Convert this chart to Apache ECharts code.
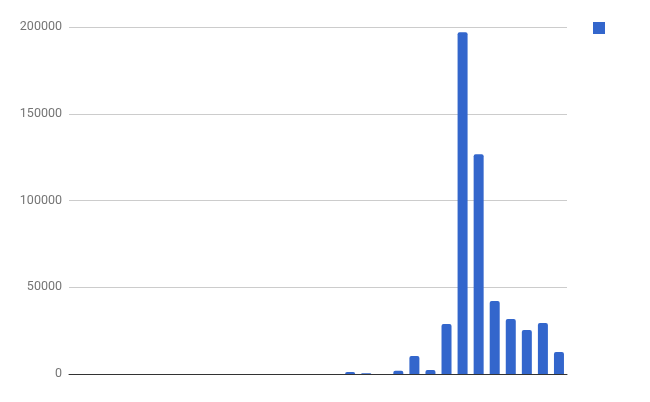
<!DOCTYPE html>
<html>
<head>
<meta charset="utf-8">
<script src="https://cdn.jsdelivr.net/npm/echarts@6/dist/echarts.min.js"></script>
<style>
  html, body { margin: 0; padding: 0; background: #fff; }
  #chart { width: 650px; height: 402px; }
</style>
</head>
<body>
<div id="chart"></div>
<script>
// 31 categories, unlabeled in the reference
var categories = [];
for (var i = 1; i <= 31; i++) { categories.push(String(i)); }

var values = [
    0, 0, 0, 0, 0, 0, 0, 0, 0, 0,
    0, 0, 0, 0, 0, 0, 0, 1100, 500, 0,
    1900, 10400, 2300, 28800, 197000, 126600, 42100, 31700, 25400, 29400,
    12700
];

var yTicks = [0, 50000, 100000, 150000, 200000];

var myChart = echarts.init(document.getElementById('chart'));

var option = {
    animation: false,
    grid: { left: 69, right: 83, top: 27, bottom: 28 },
    legend: {
        left: 593,
        top: 22,
        padding: 0,
        itemWidth: 12,
        itemHeight: 12,
        icon: 'rect',
        data: [' '],
        textStyle: { fontSize: 1 }
    },
    xAxis: {
        type: 'category',
        data: categories,
        axisTick: { show: false },
        axisLabel: { show: false },
        axisLine: { lineStyle: { color: '#333', width: 1 } }
    },
    yAxis: {
        type: 'value',
        min: 0,
        max: yTicks[yTicks.length - 1],
        interval: 50000,
        axisLine: { show: false },
        axisTick: { show: false },
        axisLabel: {
            color: '#757575',
            fontFamily: 'Roboto',
            fontSize: 12.5,
            margin: 7,
            formatter: function (v) { return String(v); }
        },
        splitLine: { lineStyle: { color: '#cccccc', width: 1 } }
    },
    series: [{
        name: ' ',
        type: 'bar',
        data: values,
        barWidth: 10,
        itemStyle: { color: '#3366cc', borderRadius: [2, 2, 0, 0] }
    }]
};

myChart.setOption(option);
</script>
</body>
</html>
